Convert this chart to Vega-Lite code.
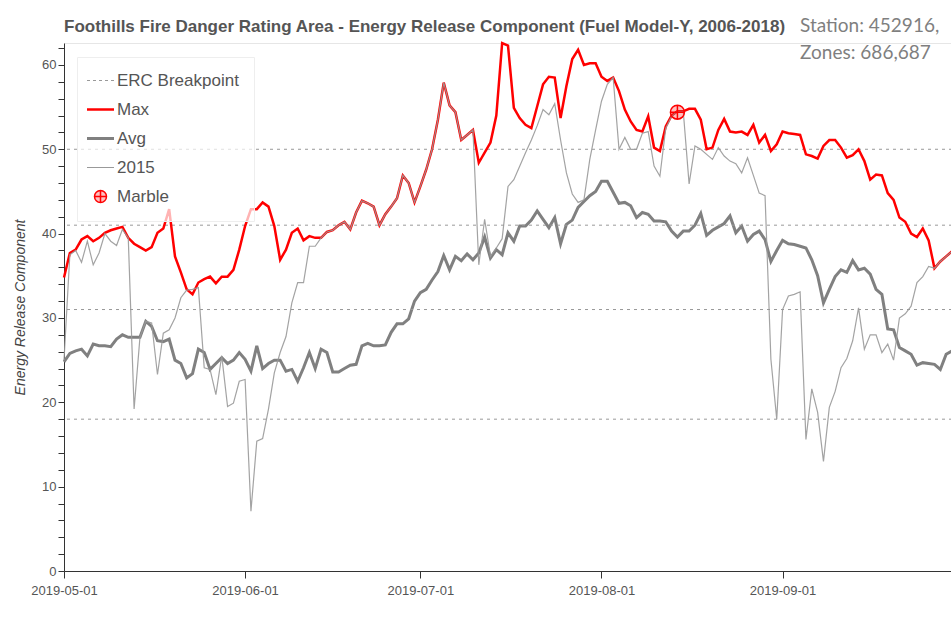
{
 "$schema": "https://vega.github.io/schema/vega-lite/v6.json",
 "width": 888,
 "height": 528,
 "autosize": {"type": "none"},
 "padding": {"left": 64, "top": 43, "right": 0, "bottom": 68},
 "background": "white",
 "config": {"view": {"stroke": "#e6e6e6"}, "font": "Liberation Sans", "axisY": {"labelOverlap": false, "labelBound": false}},
 "datasets": {
  "daily": [
   {"date":"2019-05-01","Max":34.8,"Avg":24.8,"Y2015":25.0},
   {"date":"2019-05-02","Max":37.7,"Avg":25.8,"Y2015":37.5},
   {"date":"2019-05-03","Max":38.1,"Avg":26.1,"Y2015":38.0},
   {"date":"2019-05-04","Max":39.3,"Avg":26.3,"Y2015":36.6},
   {"date":"2019-05-05","Max":39.7,"Avg":25.5,"Y2015":39.1},
   {"date":"2019-05-06","Max":39.1,"Avg":26.9,"Y2015":36.3},
   {"date":"2019-05-07","Max":39.5,"Avg":26.7,"Y2015":37.7},
   {"date":"2019-05-08","Max":40.1,"Avg":26.7,"Y2015":40.0},
   {"date":"2019-05-09","Max":40.4,"Avg":26.6,"Y2015":39.1},
   {"date":"2019-05-10","Max":40.6,"Avg":27.5,"Y2015":38.6},
   {"date":"2019-05-11","Max":40.8,"Avg":28.0,"Y2015":40.5},
   {"date":"2019-05-12","Max":39.5,"Avg":27.7,"Y2015":39.5},
   {"date":"2019-05-13","Max":38.8,"Avg":27.7,"Y2015":19.2},
   {"date":"2019-05-14","Max":38.4,"Avg":27.7,"Y2015":27.7},
   {"date":"2019-05-15","Max":38.0,"Avg":29.6,"Y2015":29.6},
   {"date":"2019-05-16","Max":38.4,"Avg":29.0,"Y2015":29.4},
   {"date":"2019-05-17","Max":40.1,"Avg":27.3,"Y2015":23.3},
   {"date":"2019-05-18","Max":40.6,"Avg":27.2,"Y2015":28.2},
   {"date":"2019-05-19","Max":42.9,"Avg":27.5,"Y2015":28.6},
   {"date":"2019-05-20","Max":37.3,"Avg":25.0,"Y2015":30.0},
   {"date":"2019-05-21","Max":35.4,"Avg":24.6,"Y2015":32.4},
   {"date":"2019-05-22","Max":33.4,"Avg":22.9,"Y2015":33.3},
   {"date":"2019-05-23","Max":32.8,"Avg":23.4,"Y2015":33.4},
   {"date":"2019-05-24","Max":34.2,"Avg":26.3,"Y2015":33.6},
   {"date":"2019-05-25","Max":34.6,"Avg":25.9,"Y2015":24.1},
   {"date":"2019-05-26","Max":34.9,"Avg":23.9,"Y2015":23.9},
   {"date":"2019-05-27","Max":34.1,"Avg":24.6,"Y2015":20.9},
   {"date":"2019-05-28","Max":34.9,"Avg":25.3,"Y2015":25.5},
   {"date":"2019-05-29","Max":34.9,"Avg":24.6,"Y2015":19.5},
   {"date":"2019-05-30","Max":35.7,"Avg":25.0,"Y2015":19.9},
   {"date":"2019-05-31","Max":38.1,"Avg":25.9,"Y2015":22.5},
   {"date":"2019-06-01","Max":40.9,"Avg":25.1,"Y2015":22.7},
   {"date":"2019-06-02","Max":42.9,"Avg":23.7,"Y2015":7.1},
   {"date":"2019-06-03","Max":42.9,"Avg":26.7,"Y2015":15.4},
   {"date":"2019-06-04","Max":43.7,"Avg":24.0,"Y2015":15.7},
   {"date":"2019-06-05","Max":43.2,"Avg":24.6,"Y2015":19.2},
   {"date":"2019-06-06","Max":40.9,"Avg":25.0,"Y2015":23.5},
   {"date":"2019-06-07","Max":36.9,"Avg":25.0,"Y2015":25.9},
   {"date":"2019-06-08","Max":38.1,"Avg":23.7,"Y2015":27.8},
   {"date":"2019-06-09","Max":40.1,"Avg":23.9,"Y2015":31.8},
   {"date":"2019-06-10","Max":40.6,"Avg":22.5,"Y2015":34.2},
   {"date":"2019-06-11","Max":39.2,"Avg":24.1,"Y2015":34.2},
   {"date":"2019-06-12","Max":39.7,"Avg":25.9,"Y2015":38.5},
   {"date":"2019-06-13","Max":39.5,"Avg":24.0,"Y2015":38.5},
   {"date":"2019-06-14","Max":39.5,"Avg":26.3,"Y2015":39.5},
   {"date":"2019-06-15","Max":40.2,"Avg":25.9,"Y2015":40.2},
   {"date":"2019-06-16","Max":40.4,"Avg":23.6,"Y2015":40.4},
   {"date":"2019-06-17","Max":41.0,"Avg":23.6,"Y2015":41.0},
   {"date":"2019-06-18","Max":41.4,"Avg":24.0,"Y2015":41.4},
   {"date":"2019-06-19","Max":40.5,"Avg":24.4,"Y2015":40.5},
   {"date":"2019-06-20","Max":42.5,"Avg":24.5,"Y2015":42.5},
   {"date":"2019-06-21","Max":43.9,"Avg":26.7,"Y2015":43.9},
   {"date":"2019-06-22","Max":43.6,"Avg":27.0,"Y2015":43.6},
   {"date":"2019-06-23","Max":43.2,"Avg":26.7,"Y2015":43.2},
   {"date":"2019-06-24","Max":41.0,"Avg":26.7,"Y2015":41.0},
   {"date":"2019-06-25","Max":42.3,"Avg":26.8,"Y2015":42.3},
   {"date":"2019-06-26","Max":43.2,"Avg":28.3,"Y2015":43.2},
   {"date":"2019-06-27","Max":44.2,"Avg":29.3,"Y2015":44.2},
   {"date":"2019-06-28","Max":46.9,"Avg":29.3,"Y2015":46.9},
   {"date":"2019-06-29","Max":46.0,"Avg":29.9,"Y2015":46.0},
   {"date":"2019-06-30","Max":43.7,"Avg":32.0,"Y2015":43.7},
   {"date":"2019-07-01","Max":45.6,"Avg":33.0,"Y2015":45.6},
   {"date":"2019-07-02","Max":47.6,"Avg":33.4,"Y2015":47.6},
   {"date":"2019-07-03","Max":50.0,"Avg":34.5,"Y2015":50.0},
   {"date":"2019-07-04","Max":53.5,"Avg":35.5,"Y2015":53.5},
   {"date":"2019-07-05","Max":57.9,"Avg":37.4,"Y2015":57.9},
   {"date":"2019-07-06","Max":55.2,"Avg":35.7,"Y2015":55.2},
   {"date":"2019-07-07","Max":54.4,"Avg":37.3,"Y2015":54.4},
   {"date":"2019-07-08","Max":51.1,"Avg":36.8,"Y2015":51.1},
   {"date":"2019-07-09","Max":51.7,"Avg":37.6,"Y2015":51.7},
   {"date":"2019-07-10","Max":52.3,"Avg":36.9,"Y2015":52.3},
   {"date":"2019-07-11","Max":48.4,"Avg":37.7,"Y2015":36.3},
   {"date":"2019-07-12","Max":49.6,"Avg":39.6,"Y2015":41.7},
   {"date":"2019-07-13","Max":50.8,"Avg":37.1,"Y2015":37.3},
   {"date":"2019-07-14","Max":54.0,"Avg":38.1,"Y2015":38.3},
   {"date":"2019-07-15","Max":62.6,"Avg":37.5,"Y2015":39.4},
   {"date":"2019-07-16","Max":62.3,"Avg":40.1,"Y2015":45.6},
   {"date":"2019-07-17","Max":54.9,"Avg":39.1,"Y2015":46.4},
   {"date":"2019-07-18","Max":53.7,"Avg":40.9,"Y2015":48.0},
   {"date":"2019-07-19","Max":52.9,"Avg":40.9,"Y2015":49.6},
   {"date":"2019-07-20","Max":52.5,"Avg":41.6,"Y2015":51.1},
   {"date":"2019-07-21","Max":55.1,"Avg":42.7,"Y2015":52.8},
   {"date":"2019-07-22","Max":57.7,"Avg":41.7,"Y2015":54.7},
   {"date":"2019-07-23","Max":58.6,"Avg":40.7,"Y2015":54.1},
   {"date":"2019-07-24","Max":58.5,"Avg":41.9,"Y2015":55.4},
   {"date":"2019-07-25","Max":53.7,"Avg":38.8,"Y2015":51.1},
   {"date":"2019-07-26","Max":57.5,"Avg":41.1,"Y2015":47.2},
   {"date":"2019-07-27","Max":60.7,"Avg":41.6,"Y2015":44.7},
   {"date":"2019-07-28","Max":61.8,"Avg":43.1,"Y2015":43.7},
   {"date":"2019-07-29","Max":60.0,"Avg":43.8,"Y2015":44.0},
   {"date":"2019-07-30","Max":60.2,"Avg":44.5,"Y2015":48.8},
   {"date":"2019-07-31","Max":60.2,"Avg":45.0,"Y2015":52.3},
   {"date":"2019-08-01","Max":58.6,"Avg":46.2,"Y2015":55.7},
   {"date":"2019-08-02","Max":58.1,"Avg":46.2,"Y2015":57.7},
   {"date":"2019-08-03","Max":58.5,"Avg":44.9,"Y2015":58.5},
   {"date":"2019-08-04","Max":56.9,"Avg":43.6,"Y2015":50.0},
   {"date":"2019-08-05","Max":54.7,"Avg":43.7,"Y2015":51.4},
   {"date":"2019-08-06","Max":53.3,"Avg":43.3,"Y2015":50.0},
   {"date":"2019-08-07","Max":52.3,"Avg":41.9,"Y2015":50.0},
   {"date":"2019-08-08","Max":52.1,"Avg":42.5,"Y2015":51.9},
   {"date":"2019-08-09","Max":53.9,"Avg":42.3,"Y2015":52.1},
   {"date":"2019-08-10","Max":50.2,"Avg":41.5,"Y2015":48.0},
   {"date":"2019-08-11","Max":49.8,"Avg":41.5,"Y2015":46.8},
   {"date":"2019-08-12","Max":52.7,"Avg":41.4,"Y2015":52.5},
   {"date":"2019-08-13","Max":54.0,"Avg":40.3,"Y2015":53.9},
   {"date":"2019-08-14","Max":54.5,"Avg":39.6,"Y2015":54.5},
   {"date":"2019-08-15","Max":54.5,"Avg":40.3,"Y2015":54.5},
   {"date":"2019-08-16","Max":54.8,"Avg":40.3,"Y2015":45.9},
   {"date":"2019-08-17","Max":54.8,"Avg":41.0,"Y2015":50.4},
   {"date":"2019-08-18","Max":53.5,"Avg":42.4,"Y2015":50.0},
   {"date":"2019-08-19","Max":50.0,"Avg":39.8,"Y2015":49.4},
   {"date":"2019-08-20","Max":50.2,"Avg":40.4,"Y2015":48.8},
   {"date":"2019-08-21","Max":52.3,"Avg":40.8,"Y2015":50.2},
   {"date":"2019-08-22","Max":53.6,"Avg":41.2,"Y2015":49.2},
   {"date":"2019-08-23","Max":52.1,"Avg":42.1,"Y2015":48.6},
   {"date":"2019-08-24","Max":52.0,"Avg":40.1,"Y2015":48.3},
   {"date":"2019-08-25","Max":52.1,"Avg":40.9,"Y2015":47.2},
   {"date":"2019-08-26","Max":51.7,"Avg":39.1,"Y2015":49.0},
   {"date":"2019-08-27","Max":52.9,"Avg":39.9,"Y2015":46.9},
   {"date":"2019-08-28","Max":50.8,"Avg":40.3,"Y2015":44.8},
   {"date":"2019-08-29","Max":51.7,"Avg":39.3,"Y2015":44.5},
   {"date":"2019-08-30","Max":49.8,"Avg":36.7,"Y2015":25.1},
   {"date":"2019-08-31","Max":50.6,"Avg":38.0,"Y2015":18.0},
   {"date":"2019-09-01","Max":52.1,"Avg":39.2,"Y2015":31.0},
   {"date":"2019-09-02","Max":51.9,"Avg":38.8,"Y2015":32.6},
   {"date":"2019-09-03","Max":51.8,"Avg":38.7,"Y2015":32.8},
   {"date":"2019-09-04","Max":51.7,"Avg":38.5,"Y2015":33.1},
   {"date":"2019-09-05","Max":49.4,"Avg":38.3,"Y2015":15.6},
   {"date":"2019-09-06","Max":49.2,"Avg":36.9,"Y2015":21.6},
   {"date":"2019-09-07","Max":48.9,"Avg":35.0,"Y2015":18.8},
   {"date":"2019-09-08","Max":50.4,"Avg":31.8,"Y2015":13.0},
   {"date":"2019-09-09","Max":51.1,"Avg":33.4,"Y2015":19.4},
   {"date":"2019-09-10","Max":51.1,"Avg":34.9,"Y2015":21.3},
   {"date":"2019-09-11","Max":50.2,"Avg":35.7,"Y2015":24.1},
   {"date":"2019-09-12","Max":49.0,"Avg":35.4,"Y2015":25.2},
   {"date":"2019-09-13","Max":49.3,"Avg":36.8,"Y2015":27.3},
   {"date":"2019-09-14","Max":50.0,"Avg":35.7,"Y2015":31.2},
   {"date":"2019-09-15","Max":48.6,"Avg":35.9,"Y2015":26.3},
   {"date":"2019-09-16","Max":46.4,"Avg":35.2,"Y2015":28.0},
   {"date":"2019-09-17","Max":47.0,"Avg":33.4,"Y2015":28.0},
   {"date":"2019-09-18","Max":46.9,"Avg":32.8,"Y2015":25.9},
   {"date":"2019-09-19","Max":44.8,"Avg":28.7,"Y2015":26.9},
   {"date":"2019-09-20","Max":44.0,"Avg":28.6,"Y2015":25.0},
   {"date":"2019-09-21","Max":41.9,"Avg":26.5,"Y2015":30.0},
   {"date":"2019-09-22","Max":41.4,"Avg":26.1,"Y2015":30.5},
   {"date":"2019-09-23","Max":40.0,"Avg":25.7,"Y2015":31.4},
   {"date":"2019-09-24","Max":39.6,"Avg":24.4,"Y2015":34.2},
   {"date":"2019-09-25","Max":40.6,"Avg":24.7,"Y2015":34.9},
   {"date":"2019-09-26","Max":39.2,"Avg":24.6,"Y2015":36.1},
   {"date":"2019-09-27","Max":35.9,"Avg":24.5,"Y2015":35.9},
   {"date":"2019-09-28","Max":36.7,"Avg":23.9,"Y2015":36.7},
   {"date":"2019-09-29","Max":37.3,"Avg":25.7,"Y2015":37.3},
   {"date":"2019-09-30","Max":37.9,"Avg":26.1,"Y2015":37.9}
  ],
  "erc": [{"erc": 18}, {"erc": 31}, {"erc": 41}, {"erc": 50}],
  "marble": [{"date": "2019-08-14", "value": 54.4}],
  "texts": [
   {"key": "title", "line": "Foothills Fire Danger Rating Area - Energy Release Component (Fuel Model-Y, 2006-2018)"},
   {"key": "station", "line": "Station: 452916,"},
   {"key": "zones", "line": "Zones: 686,687"}
  ]
 },
 "layer": [
  {
   "data": {"name": "daily"},
   "mark": {"type": "line", "strokeWidth": 3},
   "encoding": {
    "x": {"field": "date", "type": "temporal",
     "scale": {"type": "utc", "domain": [{"year": 2019, "month": 5, "date": 1, "utc": true}, {"year": 2019, "month": 9, "date": 30, "utc": true}]},
     "axis": {"values": [{"year": 2019, "month": 5, "date": 1, "utc": true}, {"year": 2019, "month": 6, "date": 1, "utc": true}, {"year": 2019, "month": 7, "date": 1, "utc": true}, {"year": 2019, "month": 8, "date": 1, "utc": true}, {"year": 2019, "month": 9, "date": 1, "utc": true}],
      "format": "%Y-%m-%d", "title": null, "grid": false, "tickSize": 7, "labelFontSize": 13, "labelColor": "#555555", "labelFont": "Liberation Sans", "domainColor": "#333333", "tickColor": "#333333", "labelPadding": 6, "labelFlush": false, "labelOverlap": false}},
    "y": {"field": "Avg", "type": "quantitative",
     "scale": {"domain": [0, 62.6], "nice": false, "zero": true},
     "axis": {"values": [0,2,4,6,8,10,12,14,16,18,20,22,24,26,28,30,32,34,36,38,40,42,44,46,48,50,52,54,56,58,60,62], "tickCount": 40,
      "labelExpr": "datum.value % 10 === 0 ? datum.label : ''", "labelOverlap": false, "labelBound": false,
      "title": "Energy Release Component", "titleFontStyle": "italic", "titleFontWeight": "normal", "titleFontSize": 14, "titleColor": "#444444", "titleFont": "Liberation Sans", "titlePadding": 14,
      "grid": false, "tickSize": 6, "labelFontSize": 13, "labelColor": "#555555", "labelFont": "Liberation Sans", "domainColor": "#333333", "tickColor": "#333333"}},
    "color": {"datum": "Avg", "type": "nominal",
     "scale": {"domain": ["ERC Breakpoint", "Max", "Avg", "2015", "Marble"], "range": ["#999999", "#ff0000", "#808080", "#999999", "#ff0000"]},
     "legend": {"title": null, "orient": "none", "legendX": 13, "legendY": 14, "symbolType": "stroke", "symbolSize": 729,
      "labelFontSize": 17, "labelColor": "#555555", "labelFont": "Liberation Sans", "rowPadding": 11, "padding": 15, "labelOffset": 8,
      "strokeColor": "#eeeeee", "fillColor": "rgba(255,255,255,0.7)",
      "encode": {"symbols": {"update": {
       "strokeWidth": {"signal": "datum.value === 'Max' ? 2.5 : datum.value === 'Avg' ? 3 : datum.value === 'Marble' ? 1.5 : 1"},
       "strokeDash": {"signal": "datum.value === 'ERC Breakpoint' ? [3, 3] : []"},
       "shape": {"signal": "datum.value === 'Marble' ? 'M-1,0A1,1,0,1,0,1,0A1,1,0,1,0,-1,0ZM-1,0L1,0M0,-1L0,1' : 'stroke'"},
       "size": {"signal": "datum.value === 'Marble' ? 144 : 729"},
       "fill": {"signal": "datum.value === 'Marble' ? 'rgba(255,0,0,0.25)' : 'transparent'"}
      }}}}
    }
   }
  },
  {
   "data": {"name": "erc"},
   "mark": {"type": "rule", "strokeDash": [3, 4], "strokeWidth": 1},
   "encoding": {
    "y": {"field": "erc", "type": "quantitative"},
    "color": {"datum": "ERC Breakpoint", "type": "nominal"}
   }
  },
  {
   "data": {"name": "daily"},
   "mark": {"type": "line", "strokeWidth": 2.5},
   "encoding": {
    "x": {"field": "date", "type": "temporal"},
    "y": {"field": "Max", "type": "quantitative"},
    "color": {"datum": "Max", "type": "nominal"}
   }
  },
  {
   "data": {"name": "daily"},
   "mark": {"type": "line", "strokeWidth": 1.2, "opacity": 0.9},
   "encoding": {
    "x": {"field": "date", "type": "temporal"},
    "y": {"field": "Y2015", "type": "quantitative"},
    "color": {"datum": "2015", "type": "nominal"}
   }
  },
  {
   "data": {"name": "marble"},
   "mark": {"type": "point", "shape": "M-1,0A1,1,0,1,0,1,0A1,1,0,1,0,-1,0ZM-1,0L1,0M0,-1L0,1", "size": 196, "filled": false, "fill": "rgba(255,0,0,0.25)", "strokeWidth": 1.5, "opacity": 1},
   "encoding": {
    "x": {"field": "date", "type": "temporal"},
    "y": {"field": "value", "type": "quantitative"},
    "color": {"datum": "Marble", "type": "nominal"}
   }
  },
  {
   "data": {"name": "texts"},
   "transform": [{"filter": "datum.key === 'title'"}],
   "mark": {"type": "text", "font": "Liberation Sans", "fontSize": 17, "fontWeight": "bold", "color": "#555555", "align": "left", "baseline": "alphabetic"},
   "encoding": {
    "text": {"field": "line"},
    "x": {"datum": {"year": 2019, "month": 5, "date": 1, "utc": true}, "type": "temporal"},
    "y": {"datum": 63.85, "type": "quantitative"}
   }
  },
  {
   "data": {"name": "texts"},
   "transform": [{"filter": "datum.key === 'station'"}],
   "mark": {"type": "text", "font": "Lato", "fontSize": 19, "color": "#7f7f7f", "align": "left", "baseline": "alphabetic"},
   "encoding": {
    "text": {"field": "line"},
    "x": {"datum": {"year": 2019, "month": 9, "date": 4, "utc": true}, "type": "temporal"},
    "y": {"datum": 63.95, "type": "quantitative"}
   }
  },
  {
   "data": {"name": "texts"},
   "transform": [{"filter": "datum.key === 'zones'"}],
   "mark": {"type": "text", "font": "Lato", "fontSize": 19, "color": "#7f7f7f", "align": "left", "baseline": "alphabetic"},
   "encoding": {
    "text": {"field": "line"},
    "x": {"datum": {"year": 2019, "month": 9, "date": 4, "utc": true}, "type": "temporal"},
    "y": {"datum": 60.75, "type": "quantitative"}
   }
  }
 ]
}
